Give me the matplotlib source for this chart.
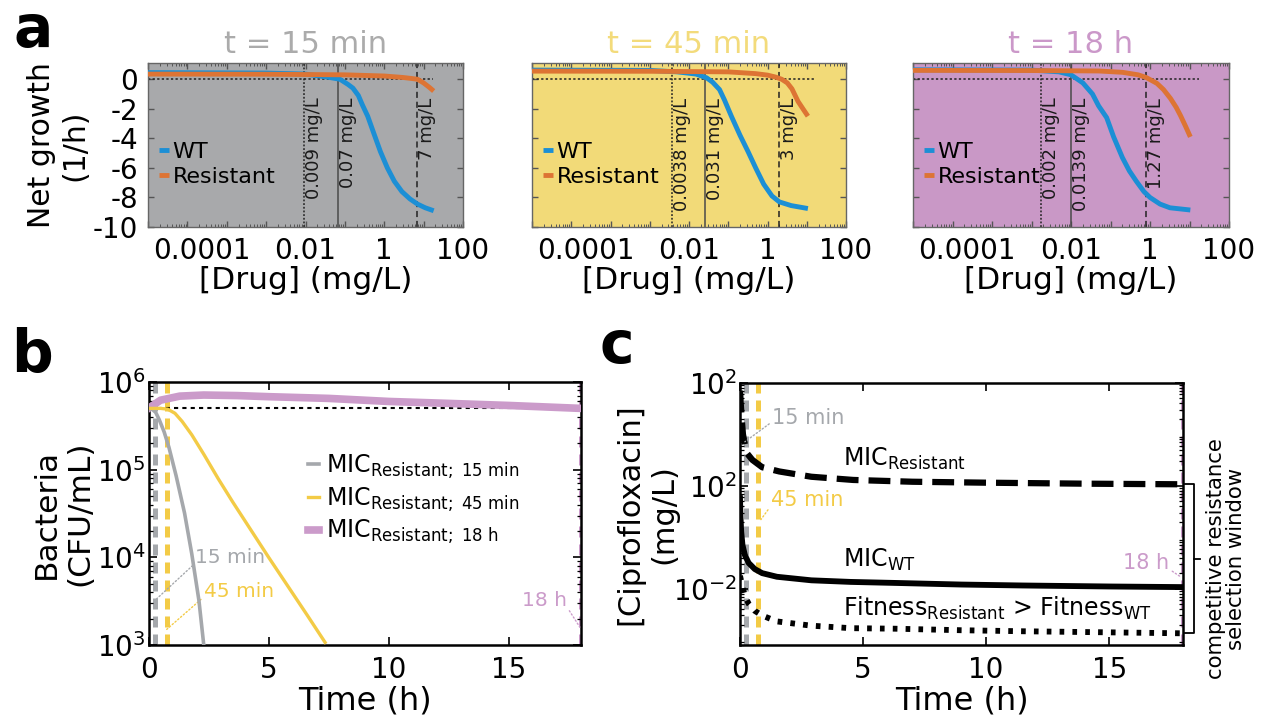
import numpy as np
import matplotlib
matplotlib.use("Agg")
import matplotlib.pyplot as plt
from matplotlib.ticker import LogLocator, FixedLocator, FuncFormatter, NullFormatter
from matplotlib.transforms import blended_transform_factory

plt.rcParams['font.family'] = ['DejaVu Sans']
plt.rcParams['mathtext.fontset'] = 'dejavusans'
plt.rcParams['axes.unicode_minus'] = False

# ---- panel a: net growth vs drug concentration ----
titles_a = ['t = 15 min', 't = 45 min', 't = 18 h']
title_colors = ['#ABABAB', '#F3DB7B', '#CB98C9']
bg_colors = ['#A8A9AB', '#F2DA78', '#C998C6']

conc_wt = [
    [1e-6, 1e-3, 0.01, 0.035, 0.075, 0.12, 0.16, 0.22, 0.28, 0.38, 0.55, 0.8, 1.2, 1.8, 2.8, 4.5, 7, 11, 18],
    [1e-6, 1e-3, 0.005, 0.015, 0.028, 0.04, 0.06, 0.08, 0.12, 0.2, 0.32, 0.5, 0.8, 1.3, 2, 4, 10.7],
    [1e-6, 1e-3, 0.005, 0.01, 0.02, 0.035, 0.05, 0.08, 0.12, 0.2, 0.3, 0.45, 0.7, 1.0, 1.8, 3.2, 10.5],
]
growth_wt = [
    [0.45, 0.42, 0.35, 0.15, 0.0, -0.35, -0.6, -1.1, -1.75, -2.5, -3.7, -4.9, -6.0, -6.9, -7.6, -8.1, -8.45, -8.7, -8.9],
    [0.62, 0.6, 0.5, 0.35, 0.1, -0.2, -0.7, -1.4, -2.5, -3.8, -4.9, -6.0, -7.1, -7.9, -8.3, -8.55, -8.75],
    [0.64, 0.62, 0.5, 0.3, -0.25, -1.0, -1.8, -2.6, -3.9, -5.3, -6.2, -6.9, -7.6, -8.0, -8.45, -8.7, -8.85],
]
conc_res = [
    [1e-6, 1e-3, 0.1, 1, 3, 5, 7, 10, 14, 18],
    [1e-6, 1e-3, 0.1, 0.5, 1, 1.6, 2.3, 3.2, 4.2, 6, 8, 10.7],
    [1e-6, 1e-3, 0.05, 0.2, 0.5, 0.8, 1.5, 2.2, 3.3, 4.6, 5.9, 8, 10.5],
]
growth_res = [
    [0.35, 0.34, 0.3, 0.22, 0.12, 0.05, 0.0, -0.25, -0.55, -0.8],
    [0.55, 0.54, 0.5, 0.38, 0.28, 0.15, 0.0, -0.25, -0.65, -1.5, -2.0, -2.5],
    [0.6, 0.59, 0.56, 0.47, 0.3, 0.12, -0.28, -0.7, -1.3, -1.9, -2.45, -3.2, -3.9],
]
# vertical reference lines: fitness crossover, MIC WT, MIC resistant
mic_lines = [[0.009, 0.066, 6.7], [0.0036, 0.025, 2.0], [0.0017, 0.0102, 0.8]]
mic_labels = [['0.009 mg/L', '0.07 mg/L', '7 mg/L'],
              ['0.0038 mg/L', '0.031 mg/L', '3 mg/L'],
              ['0.002 mg/L', '0.0139 mg/L', '1.27 mg/L']]
drug_min, drug_max = 1e-6, 17

# ---- panel b: bacteria vs time ----
t_gray = [0, 0.15, 0.3, 0.45, 0.65, 0.85, 1.15, 1.5, 1.8, 2.1, 2.3]
n_gray = [5.0e5, 4.9e5, 4.5e5, 3.7e5, 2.7e5, 1.8e5, 8.5e4, 3.2e4, 1.1e4, 3.2e3, 1.0e3]
t_yel = [0, 0.5, 0.8, 1.1, 1.4, 1.8, 2.3, 2.9, 3.5, 5.0, 6.6, 7.35]
n_yel = [5.0e5, 5.0e5, 4.9e5, 4.4e5, 3.55e5, 2.5e5, 1.5e5, 7.9e4, 4.3e4, 1.0e4, 2.2e3, 1.07e3]
t_pink = [0, 0.5, 1.3, 2.3, 3.7, 5, 7.5, 10, 12.5, 15, 18]
n_pink = [5.0e5, 6.2e5, 6.9e5, 7.1e5, 7.0e5, 6.8e5, 6.5e5, 6.0e5, 5.7e5, 5.4e5, 5.0e5]
inoculum = 5.0e5
sample_times = [0.25, 0.75, 18]
legend_b = [r'MIC$_{\mathregular{Resistant;\ 15\ min}}$',
            r'MIC$_{\mathregular{Resistant;\ 45\ min}}$',
            r'MIC$_{\mathregular{Resistant;\ 18\ h}}$']

# ---- panel c: concentration thresholds vs time ----
t_res = [0, 0.03, 0.07, 0.12, 0.2, 0.3, 0.5, 0.9, 1.6, 2.9, 4.6, 7, 10, 14, 18]
mic_res = [70.8, 40, 20, 10, 6.3, 4.2, 3.2, 2.3, 1.9, 1.5, 1.3, 1.2, 1.15, 1.1, 1.07]
t_wt = [0, 0.02, 0.05, 0.1, 0.2, 0.35, 0.6, 0.9, 1.5, 2.9, 4.5, 6.3, 9, 11.5, 15, 18]
mic_wt = [0.575, 0.251, 0.126, 0.0708, 0.0447, 0.0316, 0.024, 0.020, 0.017, 0.0145,
          0.0135, 0.0129, 0.012, 0.0115, 0.011, 0.0107]
t_fit = [0, 0.1, 0.2, 0.35, 0.6, 0.9, 1.5, 2.9, 4.5, 6.3, 9, 11.5, 15, 18]
fit_cross = [0.0178, 0.0107, 0.0071, 0.0051, 0.0037, 0.003, 0.0023, 0.0019, 0.0017,
             0.00166, 0.00155, 0.00148, 0.00141, 0.00135]

GRAY, YEL, PINK = '#A5A8AC', '#F3CB46', '#CB9BCA'
BLUE, ORANGE = '#1C8FD5', '#DD7434'

W, H = 1263, 723
fig = plt.figure(figsize=(W / 100, H / 100), dpi=100)


def px_rect(x0, x1, y_top, y_bot):
    return [x0 / W, 1 - y_bot / H, (x1 - x0) / W, (y_bot - y_top) / H]


a_rects = [px_rect(148, 463, 63, 227), px_rect(532, 846, 63, 227), px_rect(913, 1229, 63, 227)]
a_labels = {1e-2: '0.01', 1: '1', 1e2: '100'}

for i in range(3):
    ax = fig.add_axes(a_rects[i])
    ax.set_facecolor(bg_colors[i])
    ax.set_xscale('log')
    ax.set_xlim(1e-6, 1e2)
    ax.set_ylim(-10, 1.1)
    ax.hlines(0, drug_min, drug_max, colors='#222222', linestyles=(0, (1.5, 1.5)), lw=1.1, zorder=2)
    ls_list = [(0, (1.2, 1.2)), '-', (0, (4, 2.5))]
    lc_list = ['#222222', '#4a4a4a', '#222222']
    for xv, lab, ls, lc in zip(mic_lines[i], mic_labels[i], ls_list, lc_list):
        ax.axvline(xv, color=lc, ls=ls, lw=1.1, zorder=2)
        ax.text(xv * 1.06, -1.25, lab, rotation=90, ha='left', va='top',
                fontsize=13, color='#1a1a1a', zorder=4)
    ax.plot(conc_wt[i], growth_wt[i], color=BLUE, lw=3.5, label='WT', zorder=3,
            solid_capstyle='butt')
    ax.plot(conc_res[i], growth_res[i], color=ORANGE, lw=3.5, label='Resistant', zorder=3,
            solid_capstyle='butt')
    ax.legend(loc='upper left', bbox_to_anchor=(0.0, 0.585), frameon=False, fontsize=16,
              handlelength=0.45, handletextpad=0.15, labelspacing=0.2, borderpad=0.2,
              borderaxespad=0.3)
    ax.xaxis.set_major_locator(LogLocator(base=10, numticks=20))
    ax.xaxis.set_minor_locator(LogLocator(base=10, subs=np.arange(2, 10), numticks=20))
    ax.xaxis.set_major_formatter(FuncFormatter(
        lambda v, p: next((s for k, s in a_labels.items() if abs(np.log10(v) - np.log10(k)) < 1e-6), '')))
    ax.xaxis.set_minor_formatter(NullFormatter())
    # leftmost label sits a little left of its tick in the original
    ax.annotate('0.0001', xy=(1e-4, 0), xycoords=('data', 'axes fraction'),
                xytext=(-18, -7), textcoords='offset points', ha='center', va='top',
                fontsize=20)
    ax.set_yticks([0, -2, -4, -6, -8, -10])
    ax.tick_params(which='both', direction='in', top=True, right=True, colors='#555555',
                   labelcolor='black', labelsize=20, pad=7)
    ax.tick_params(which='major', length=4, width=1)
    ax.tick_params(which='minor', length=2, width=0.7)
    for s in ax.spines.values():
        s.set_color('#666666')
        s.set_linewidth(1.0)
    if i > 0:
        ax.set_yticklabels([])
    else:
        ax.set_ylabel('Net growth\n(1/h)', fontsize=21.5, linespacing=1.2)
        ax.yaxis.set_label_coords(-0.185, 0.5)
    ax.set_xlabel('[Drug] (mg/L)', fontsize=22.5)
    ax.xaxis.set_label_coords(0.5, -0.235)
    ax.set_title(titles_a[i], color=title_colors[i], fontsize=22, pad=7)

# ---- panel b ----
axb = fig.add_axes(px_rect(148.5, 581, 382, 645))
axb.set_yscale('log')
axb.set_xlim(0, 18)
axb.set_ylim(1e3, 1e6)
for tv, c in zip(sample_times, [GRAY, YEL, PINK]):
    axb.axvline(tv, color=c, lw=3.6, ls=(0, (2.2, 1.4)), zorder=1)
axb.axhline(inoculum, color='black', lw=1.5, ls=(0, (2, 2)), zorder=2)
axb.plot(t_pink, n_pink, color=PINK, lw=5.5, zorder=3, label=legend_b[2])
axb.plot(t_gray, n_gray, color=GRAY, lw=2.6, zorder=4, label=legend_b[0])
axb.plot(t_yel, n_yel, color=YEL, lw=2.4, zorder=4, label=legend_b[1])
h, l = axb.get_legend_handles_labels()
order = [1, 2, 0]
axb.legend([h[k] for k in order], [l[k] for k in order], loc='upper left',
           bbox_to_anchor=(0.335, 0.785), frameon=False, fontsize=17, handlelength=0.5,
           handletextpad=0.3, labelspacing=0.2, borderpad=0.1)
axb.annotate('15 min', xy=(0.2, 3.1e3), xytext=(1.95, 1.0e4), color=GRAY, fontsize=14.5,
             va='center', ha='left',
             arrowprops=dict(arrowstyle='-', ls=':', color=GRAY, lw=1, relpos=(0, 0.2),
                             shrinkA=0, shrinkB=0))
axb.annotate('45 min', xy=(0.75, 1.5e3), xytext=(2.3, 4.1e3), color=YEL, fontsize=14.5,
             va='center', ha='left',
             arrowprops=dict(arrowstyle='-', ls=':', color=YEL, lw=1, relpos=(0, 0.2),
                             shrinkA=0, shrinkB=0))
axb.annotate('18 h', xy=(17.95, 1.6e3), xytext=(17.4, 3.2e3), color=PINK, fontsize=14.5,
             va='center', ha='right',
             arrowprops=dict(arrowstyle='-', ls=':', color=PINK, lw=1, relpos=(1, 0.2),
                             shrinkA=0, shrinkB=0))
axb.set_xticks([0, 5, 10, 15])
axb.yaxis.set_major_locator(FixedLocator([1e3, 1e4, 1e5, 1e6]))
axb.yaxis.set_major_formatter(FuncFormatter(lambda v, p: r'$10^{%d}$' % round(np.log10(v))))
axb.yaxis.set_minor_locator(LogLocator(base=10, subs=np.arange(2, 10), numticks=20))
axb.yaxis.set_minor_formatter(NullFormatter())
axb.tick_params(which='both', direction='in', top=True, right=True, labelsize=20)
axb.tick_params(axis='y', pad=2)
axb.tick_params(axis='x', pad=8)
axb.tick_params(which='major', length=6, width=1.2)
axb.tick_params(which='minor', length=3, width=0.9)
for s in axb.spines.values():
    s.set_linewidth(1.8)
axb.set_xlabel('Time (h)', fontsize=23)
axb.xaxis.set_label_coords(0.5, -0.155)
axb.set_ylabel('Bacteria\n(CFU/mL)', fontsize=22.5, linespacing=1.2)
axb.yaxis.set_label_coords(-0.125, 0.5)

# ---- panel c ----
axc = fig.add_axes(px_rect(740, 1183, 383, 645))
axc.set_yscale('log')
axc.set_xlim(0, 18)
axc.set_ylim(8e-4, 1e2)
for tv, c in zip(sample_times, [GRAY, YEL, PINK]):
    axc.axvline(tv, color=c, lw=3.6, ls=(0, (2.2, 1.4)), zorder=1)
axc.plot(t_res, mic_res, color='black', lw=4.5, ls=(0, (3.5, 1.6)), zorder=3)
axc.plot(t_wt, mic_wt, color='black', lw=4.2, zorder=3)
axc.plot(t_fit, fit_cross, color='black', lw=4.2, ls=(0, (0.8, 1.4)), zorder=3)
axc.text(4.2, 2.5, r'MIC$_{\mathregular{Resistant}}$', fontsize=17, va='baseline')
axc.text(4.2, 0.026, r'MIC$_{\mathregular{WT}}$', fontsize=17, va='baseline')
axc.text(4.2, 0.003, r'Fitness$_{\mathregular{Resistant}}$ > Fitness$_{\mathregular{WT}}$',
         fontsize=17, va='baseline')
axc.annotate('15 min', xy=(0.2, 7.2), xytext=(1.3, 21), color=GRAY, fontsize=15,
             va='center', ha='left',
             arrowprops=dict(arrowstyle='-', ls=':', color=GRAY, lw=1, relpos=(0, 0.3),
                             shrinkA=0, shrinkB=0))
axc.annotate('45 min', xy=(0.85, 0.22), xytext=(1.25, 0.53), color=YEL, fontsize=15,
             va='center', ha='left',
             arrowprops=dict(arrowstyle='-', ls=':', color=YEL, lw=1, relpos=(0, 0.2),
                             shrinkA=0, shrinkB=0))
axc.annotate('18 h', xy=(17.9, 0.017), xytext=(17.45, 0.031), color=PINK, fontsize=15,
             va='center', ha='right',
             arrowprops=dict(arrowstyle='-', ls=':', color=PINK, lw=1, relpos=(1, 0.2),
                             shrinkA=0, shrinkB=0))
axc.set_xticks([0, 5, 10, 15])
axc.yaxis.set_major_locator(FixedLocator([1e-2, 1, 1e2]))
axc.set_yticklabels([r'$10^{-2}$', r'$10^{2}$', r'$10^{2}$'])
axc.yaxis.set_minor_locator(LogLocator(base=10, subs=np.arange(2, 10), numticks=20))
axc.yaxis.set_minor_formatter(NullFormatter())
axc.tick_params(which='both', direction='in', top=True, right=True, labelsize=20)
axc.tick_params(axis='y', pad=2)
axc.tick_params(axis='x', pad=8)
axc.tick_params(which='major', length=6, width=1.2)
axc.tick_params(which='minor', length=3, width=0.9)
for s in axc.spines.values():
    s.set_linewidth(1.8)
axc.set_xlabel('Time (h)', fontsize=23)
axc.xaxis.set_label_coords(0.5, -0.155)
axc.set_ylabel('[Ciprofloxacin]\n(mg/L)', fontsize=22, linespacing=1.2)
axc.yaxis.set_label_coords(-0.14, 0.5)

# selection window bracket
tr = blended_transform_factory(axc.transAxes, axc.transData)
top, bot = mic_res[-1], fit_cross[-1]
mid = np.sqrt(top * bot)
axc.plot([1.005, 1.025, 1.025, 1.005], [top, top, bot, bot], transform=tr, color='black',
         lw=1.3, clip_on=False)
axc.plot([1.025, 1.038], [mid, mid], transform=tr, color='black', lw=1.3, clip_on=False)
axc.text(1.097, mid, 'competitive resistance\nselection window', transform=tr, rotation=90,
         ha='center', va='center', fontsize=15.3, linespacing=1.05)

fig.text(13 / W, 1 - 47 / H, 'a', fontsize=42, fontweight='bold', va='baseline')
fig.text(11 / W, 1 - 372 / H, 'b', fontsize=42, fontweight='bold', va='baseline')
fig.text(600 / W, 1 - 363 / H, 'c', fontsize=42, fontweight='bold', va='baseline')

fig.savefig('out.png', dpi=100)
